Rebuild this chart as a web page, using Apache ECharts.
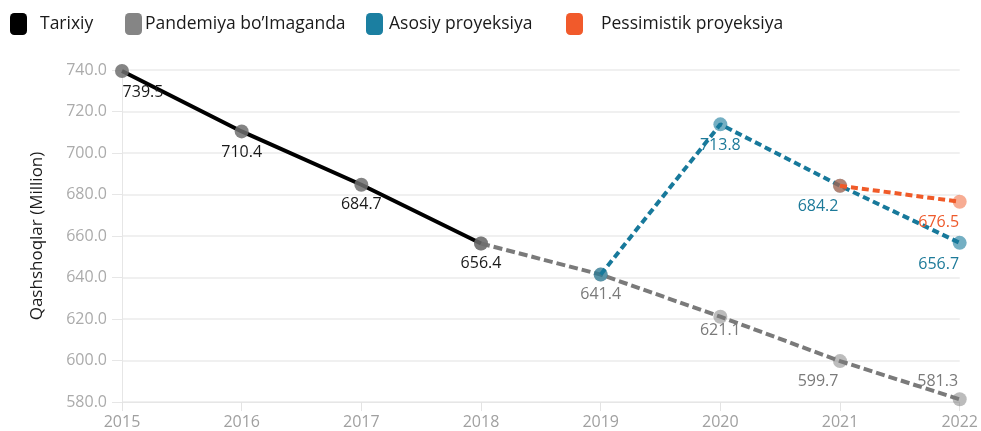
<!DOCTYPE html>
<html>
<head>
<meta charset="utf-8">
<script src="https://cdn.jsdelivr.net/npm/echarts@6/dist/echarts.min.js"></script>
<style>
html,body{margin:0;padding:0;background:#fff;}
#chart{width:981px;height:431px;}
</style>
</head>
<body>
<div id="chart"></div>
<script>
// ---- data ----
var years = ['2015','2016','2017','2018','2019','2020','2021','2022'];
var tarixiy     = [739.5, 710.4, 684.7, 656.4, null, null, null, null];
var pandemiya   = [null, null, null, 656.4, 641.4, 621.1, 599.7, 581.3];
var asosiy      = [null, null, null, null, 641.4, 713.8, 684.2, 656.7];
var pessimistik = [null, null, null, null, null, null, 684.2, 676.5];
var seriesNames = ['Tarixiy', 'Pandemiya bo\u2019Imaganda', 'Asosiy proyeksiya', 'Pessimistik proyeksiya'];
var yTicks = {min: 580, max: 740, interval: 20};

// ---- label placement (style, not data) ----
var tarixiyLbl     = [[21,21],[0,21],[0,20],[0,20],null,null,null,null];
var pandemiyaLbl   = [null,null,null,null,[0,20],[0,14],[-22,20],[-22,-18]];
var asosiyLbl      = [null,null,null,null,null,[0,21],[-22,21],[-21,22]];
var pessimistikLbl = [null,null,null,null,null,null,null,[-21,21]];

function build(vals, lbls){
  return vals.map(function(v,i){
    if (v === null) return null;
    var o = lbls[i];
    return {value: v, label: o ? {show: true, offset: o} : {show: false}};
  });
}

var FONT = '"Open Sans", "Noto Sans", sans-serif';
var C_BLACK = '#000000', C_GRAY = '#7a7a7a', C_BLUE = '#17799b', C_ORANGE = '#f05a28';

function mkSeries(name, vals, lbls, lineColor, lineType, markerColor, labelColor, z){
  return {
    name: name, type: 'line', data: build(vals, lbls), z: z,
    connectNulls: false,
    symbol: 'circle', symbolSize: 14,
    lineStyle: {color: lineColor, width: 4, type: lineType},
    itemStyle: {color: markerColor},
    label: {show: true, position: 'inside', align: 'center', verticalAlign: 'middle',
            color: labelColor, fontSize: 16, fontFamily: FONT, textBorderWidth: 0,
            formatter: function(p){ return p.value.toFixed(1); }},
    emphasis: {disabled: true},
    animation: false
  };
}

var legendLefts = [10, 125, 366, 566];
var legendGaps  = [8, -2, 1, 13];
var legendColors = ['#000000', '#858585', '#1b7fa1', '#f15a2b'];

var chart = echarts.init(document.getElementById('chart'), null, {renderer: 'canvas'});
chart.setOption({
  backgroundColor: '#ffffff',
  animation: false,
  color: legendColors,
  legend: seriesNames.map(function(n, i){
    return {
      data: [{name: n, itemStyle: {color: legendColors[i]}}],
      left: legendLefts[i], top: 13, padding: 0,
      icon: 'roundRect', itemWidth: 17, itemHeight: 22,
      selectedMode: false,
      textStyle: {color: '#1a1a1a', fontSize: 17.5, fontFamily: FONT, padding: [0,0,0,legendGaps[i]]}
    };
  }),
  grid: {left: 122, right: 19, top: 70, bottom: 29},
  xAxis: {
    type: 'category', data: years, boundaryGap: false,
    axisLine: {show: true, lineStyle: {color: '#e6e6e6', width: 1}},
    axisTick: {show: true, length: 9, lineStyle: {color: '#e3e3e3'}},
    axisLabel: {color: '#a0a0a0', fontSize: 16, fontFamily: FONT, margin: 12},
    splitLine: {show: false}
  },
  yAxis: {
    type: 'value', min: yTicks.min, max: yTicks.max, interval: yTicks.interval,
    name: 'Qashshoqlar (Million)', nameLocation: 'middle', nameGap: 76,
    nameTextStyle: {color: '#1a1a1a', fontSize: 17, fontFamily: FONT},
    axisLine: {show: true, lineStyle: {color: '#e6e6e6', width: 1}},
    axisTick: {show: true, length: 10, lineStyle: {color: '#e6e6e6'}},
    axisLabel: {color: '#ababab', fontSize: 16, fontFamily: FONT, margin: 15,
                formatter: function(v){ return v.toFixed(1); }},
    splitLine: {show: true, lineStyle: {color: '#ebebeb', width: 1.5}}
  },
  series: [
    mkSeries(seriesNames[1], pandemiya, pandemiyaLbl, C_GRAY, [9,4], 'rgba(122,122,122,0.5)', '#7a7a7a', 2),
    mkSeries(seriesNames[0], tarixiy, tarixiyLbl, C_BLACK, 'solid', 'rgba(110,110,110,0.85)', '#1a1a1a', 3),
    mkSeries(seriesNames[2], asosiy, asosiyLbl, C_BLUE, [7,4], 'rgba(23,121,155,0.6)', '#1d7a99', 4),
    mkSeries(seriesNames[3], pessimistik, pessimistikLbl, C_ORANGE, [7,4], 'rgba(240,90,40,0.5)', '#ee5a2c', 5)
  ]
});
</script>
</body>
</html>
